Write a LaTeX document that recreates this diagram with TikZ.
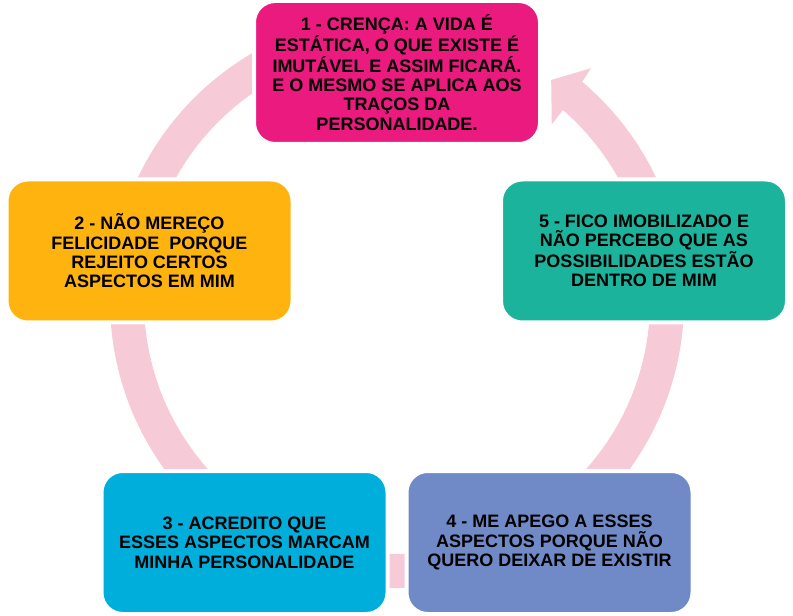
\documentclass[tikz,border=0pt]{standalone}
\usepackage{fontspec}
\setmainfont{Liberation Sans}
\definecolor{ringpink}{HTML}{F6CAD6}
\definecolor{cmag}{HTML}{EA1A7F}
\definecolor{corange}{HTML}{FEB30E}
\definecolor{cteal}{HTML}{1BB39C}
\definecolor{ccyan}{HTML}{00AEDB}
\definecolor{cperi}{HTML}{7089C7}
\begin{document}
\begin{tikzpicture}[x=0.75pt,y=0.75pt,
  stepbox/.style={draw=white, line width=3pt, rounded corners=16pt,
    minimum width=214.5pt, minimum height=107.25pt, inner sep=0pt,
    align=center, text=black,
    font=\fontsize{13.5}{14.5}\selectfont\bfseries}]
\useasboundingbox (0,0) rectangle (793,615);
% ring arrow
\begin{scope}[shift={(397,314)}]
\fill[ringpink] (95:287) arc[start angle=95, end angle=409.8, radius=215.25pt]
  -- (410.2:303) -- (415.1:269.5) -- (408.8:235) -- (409:253)
  arc[start angle=409, end angle=95, radius=189.75pt] -- cycle;
\end{scope}
% boxes
\node[stepbox, fill=cmag] (b1) at (397,542.5)
  {1 - CRENÇA: A VIDA É\\ESTÁTICA, O QUE EXISTE É\\IMUTÁVEL E ASSIM FICARÁ.\\E O MESMO SE APLICA AOS\\TRAÇOS DA\\PERSONALIDADE.};
\node[stepbox, fill=corange] (b2) at (149.5,364)
  {2 - NÃO MEREÇO\\FELICIDADE\ \ PORQUE\\REJEITO CERTOS\\ASPECTOS EM MIM};
\node[stepbox, fill=ccyan] (b3) at (244.5,72.5)
  {3 - ACREDITO QUE\\ESSES ASPECTOS MARCAM\\MINHA PERSONALIDADE};
\node[stepbox, fill=cperi] (b4) at (549.5,72.5)
  {4 - ME APEGO A ESSES\\ASPECTOS PORQUE NÃO\\QUERO DEIXAR DE EXISTIR};
\node[stepbox, fill=cteal] (b5) at (644,364)
  {5 - FICO IMOBILIZADO E\\NÃO PERCEBO QUE AS\\POSSIBILIDADES ESTÃO\\DENTRO DE MIM};
\end{tikzpicture}
\end{document}
